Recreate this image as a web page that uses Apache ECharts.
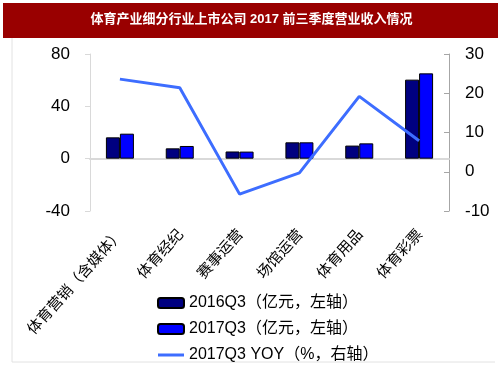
<!DOCTYPE html>
<html>
<head>
<meta charset="utf-8">
<script src="https://cdn.jsdelivr.net/npm/echarts@6/dist/echarts.min.js"></script>
<style>
  html, body { margin: 0; padding: 0; background: #fff; }
  #chart { width: 503px; height: 378px; }
</style>
</head>
<body>
<div id="chart"></div>
<script>
var dom = document.getElementById("chart");
var myChart = echarts.init(dom);

// 细分行业
var categories = ['体育营销（含媒体）', '体育经纪', '赛事运营', '场馆运营', '体育用品', '体育彩票'];
// 营业收入（亿元）
var rev2016 = [16.3, 7.9, 5.5, 12.5, 10.0, 60.4];
var rev2017 = [19.1, 9.7, 5.4, 12.5, 11.7, 65.2];
// 同比（%）
var yoy2017 = [23.6, 21.4, -5.7, -0.3, 19.2, 7.9];

var leftTicks = { min: -40, max: 80, interval: 40 };
var rightTicks = { min: -10, max: 30, interval: 10 };

var cjk = '"Noto Sans CJK SC", sans-serif';
var num = '"Liberation Sans", Arial, "Noto Sans CJK SC", sans-serif';

var option = {
    animation: false,
    backgroundColor: '#fff',
    graphic: [
        { type: 'rect', shape: { x: 3, y: 3, width: 495, height: 35 }, style: { fill: '#990000' } },
        { type: 'line', shape: { x1: 12, y1: 38, x2: 12, y2: 362 }, style: { stroke: '#e2e2e2', lineWidth: 1 } },
        { type: 'line', shape: { x1: 12, y1: 362, x2: 495, y2: 362 }, style: { stroke: '#e2e2e2', lineWidth: 1 } },
        {
            type: 'text', left: 'center', top: 13,
            style: {
                text: '体育产业细分行业上市公司 2017 前三季度营业收入情况',
                fill: '#fff', font: 'bold 13px ' + num
            }
        }
    ],
    grid: { left: 90, right: 54, top: 54, bottom: 167 },
    legend: {
        orient: 'vertical',
        left: 157,
        top: 295,
        padding: 0,
        itemWidth: 26,
        itemHeight: 10,
        itemGap: 10,
        textStyle: { fontSize: 16, color: '#000', fontFamily: num },
        data: [
            '2016Q3（亿元，左轴）',
            '2017Q3（亿元，左轴）',
            { name: '2017Q3 YOY（%，右轴）', icon: 'path://M0,0 L26,0 L26,3 L0,3 Z' }
        ]
    },
    xAxis: [{
        type: 'category',
        data: categories,
        axisLine: { show: false, onZero: false },
        axisTick: { show: false },
        axisLabel: { rotate: 48, margin: 20, fontSize: 15, color: '#000', fontFamily: cjk, interval: 0 }
    }, {
        type: 'category',
        data: categories,
        position: 'bottom',
        axisLine: { show: true, onZero: true, lineStyle: { color: '#d9d9d9', width: 2 } },
        axisTick: { show: false },
        axisLabel: { show: false }
    }],
    yAxis: [{
        type: 'value',
        min: leftTicks.min, max: leftTicks.max, interval: leftTicks.interval,
        axisLine: { show: true, lineStyle: { color: '#d9d9d9' } },
        axisTick: { show: true, length: 5, lineStyle: { color: '#d9d9d9' } },
        axisLabel: { margin: 20, fontSize: 17, color: '#000', fontFamily: num },
        splitLine: { show: false }
    }, {
        type: 'value',
        position: 'right',
        min: rightTicks.min, max: rightTicks.max, interval: rightTicks.interval,
        axisLine: { show: true, lineStyle: { color: '#a6a6a6' } },
        axisTick: { show: true, inside: true, length: 5, lineStyle: { color: '#a6a6a6' } },
        axisLabel: { margin: 16, fontSize: 17, color: '#000', fontFamily: num },
        splitLine: { show: false }
    }],
    series: [{
        name: '2016Q3（亿元，左轴）',
        type: 'bar',
        barWidth: 14,
        barGap: '0%',
        itemStyle: { color: '#000080', borderColor: '#000', borderWidth: 1 },
        data: rev2016
    }, {
        name: '2017Q3（亿元，左轴）',
        type: 'bar',
        barWidth: 14,
        barGap: '0%',
        itemStyle: { color: '#0000ff', borderColor: '#000', borderWidth: 1 },
        data: rev2017
    }, {
        name: '2017Q3 YOY（%，右轴）',
        type: 'line',
        yAxisIndex: 1,
        symbol: 'none',
        lineStyle: { color: '#3d6dff', width: 3 },
        itemStyle: { color: '#3d6dff', borderWidth: 0 },
        data: yoy2017
    }]
};

if (option && typeof option === 'object') {
    myChart.setOption(option);
}
</script>
</body>
</html>
